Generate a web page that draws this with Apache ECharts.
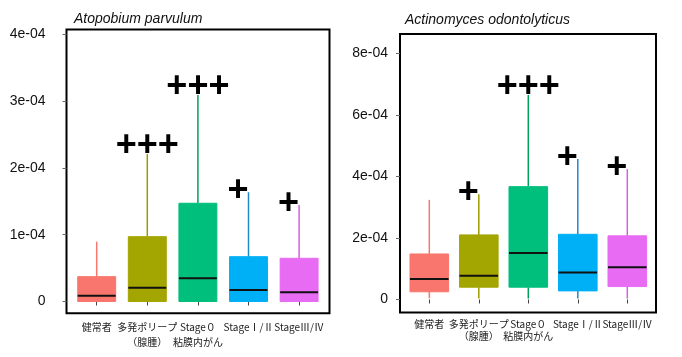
<!DOCTYPE html>
<html><head><meta charset="utf-8">
<script src="https://cdn.jsdelivr.net/npm/echarts@6/dist/echarts.min.js"></script>
<style>html,body{margin:0;padding:0;background:#fff}#c{width:682px;height:357px}</style>
</head><body><div id="c"></div>
<script>
// values in units of 1e-4
const categories = ['健常者', '多発ポリープ\n（腺腫）', 'Stage０\n粘膜内がん', 'StageⅠ/Ⅱ', 'StageⅢ/Ⅳ'];
const titleLeft = 'Atopobium parvulum';
const titleRight = 'Actinomyces odontolyticus';

const leftMin = [0, 0, 0, 0, 0];
const leftQ1 = [0, 0, 0, 0, 0];
const leftMedian = [0.087, 0.207, 0.348, 0.172, 0.138];
const leftQ3 = [0.372, 0.971, 1.471, 0.671, 0.647];
const leftMax = [0.896, 2.21, 3.094, 1.636, 1.446];
const leftMarks = ['', '+++', '+++', '+', '+'];
const leftTicks = [0, 1, 2, 3, 4];
const leftTickLabels = ['0', '1e-04', '2e-04', '3e-04', '4e-04'];

const rightMin = [0.04, 0.03, 0.03, 0.03, 0.03];
const rightQ1 = [0.25, 0.40, 0.40, 0.28, 0.42];
const rightMedian = [0.67, 0.77, 1.51, 0.88, 1.05];
const rightQ3 = [1.48, 2.10, 3.67, 2.12, 2.07];
const rightMax = [3.24, 3.42, 6.65, 4.57, 4.24];
const rightMarks = ['', '+', '+++', '+', '+'];
const rightTicks = [0, 2, 4, 6, 8];
const rightTickLabels = ['0', '2e-04', '4e-04', '6e-04', '8e-04'];

const fillColors = ['#F8766D', '#A3A500', '#00BF7D', '#00B0F6', '#E76BF3'];
const whiskerColors = ['#F8766D', '#9C9C00', '#00A05A', '#1E88C8', '#D660E0'];

function boxData(mn, q1, md, q3, mx) {
  return categories.map((c, i) => [i, mn[i], q1[i], md[i], q3[i], mx[i]]);
}
function markData(marks, mx) {
  const out = [];
  marks.forEach((m, i) => {
    if (!m) return;
    out.push({value: [i, mx[i]], label: {formatter: m, offset: m.length > 1 ? [0, -8] : [-10.5, -1]}});
  });
  return out;
}
function renderBox(frac) {
  return function (params, api) {
    const i = api.value(0);
    const pMin = api.coord([i, api.value(1)]);
    const pQ1 = api.coord([i, api.value(2)]);
    const pMd = api.coord([i, api.value(3)]);
    const pQ3 = api.coord([i, api.value(4)]);
    const pMax = api.coord([i, api.value(5)]);
    const bw = api.size([1, 0])[0] * frac;
    const x = pMd[0];
    const wc = whiskerColors[i], fc = fillColors[i];
    return {type: 'group', children: [
      {type: 'line', shape: {x1: x, y1: pQ3[1], x2: x, y2: pMax[1]}, style: {stroke: wc, lineWidth: 1.5}},
      {type: 'line', shape: {x1: x, y1: pQ1[1], x2: x, y2: pMin[1]}, style: {stroke: wc, lineWidth: 1.5}},
      {type: 'rect', shape: {x: x - bw / 2, y: pQ3[1], width: bw, height: pQ1[1] - pQ3[1]}, style: {fill: fc, stroke: fc, lineWidth: 1, opacity: 1}},
      {type: 'line', shape: {x1: x - bw / 2, y1: pMd[1], x2: x + bw / 2, y2: pMd[1]}, style: {stroke: '#111', lineWidth: 2}}
    ]};
  };
}

const chart = echarts.init(document.getElementById('c'), null, {renderer: 'canvas'});

function frameY(gi, min, max, ticks, labels, margin) {
  return {
    type: 'value', gridIndex: gi, min: min, max: max,
    axisLine: {show: false}, splitLine: {show: false},
    axisTick: {show: true, length: 4, lineStyle: {color: '#666'}, customValues: ticks},
    axisLabel: {show: true, customValues: ticks, margin: margin, fontSize: 14, color: '#111',
      fontFamily: 'Liberation Sans, Arial', formatter: v => labels[ticks.indexOf(Math.round(v))] }
  };
}
function hiddenY(gi, min, max) {
  return {type: 'value', gridIndex: gi, min: min, max: max, show: false, splitLine: {show: false}};
}
function dataX(gi, margin, lh) {
  return {
    type: 'category', gridIndex: gi, data: categories,
    axisLine: {show: false},
    axisTick: {show: true, alignWithLabel: true, length: 4, lineStyle: {color: '#444'}},
    axisLabel: {interval: 0, hideOverlap: false, margin: margin, fontSize: 10, lineHeight: lh, color: '#222',
      fontFamily: 'Noto Sans CJK JP'}
  };
}

const LMIN = -0.177, LMAX = 4.074, RMIN = -0.423, RMAX = 8.634;
const markLabel = {show: true, position: 'inside', fontSize: 36, fontWeight: 'bold', color: '#000', opacity: 1,
  fontFamily: 'Liberation Sans, Arial'};

chart.setOption({
  animation: false,
  backgroundColor: '#fff',
  title: [
    {text: titleLeft, left: 69, top: 7, textStyle: {fontSize: 14, fontStyle: 'italic', fontWeight: 'normal', color: '#111', fontFamily: 'Liberation Sans, Arial'}},
    {text: titleRight, left: 400, top: 8, textStyle: {fontSize: 14, fontStyle: 'italic', fontWeight: 'normal', color: '#111', fontFamily: 'Liberation Sans, Arial'}}
  ],
  grid: [
    {left: 66.5, top: 29.5, width: 263, height: 283.8, show: true, borderColor: '#000', borderWidth: 2, backgroundColor: 'transparent'},
    {left: 71.4, top: 29.5, width: 253, height: 283.8},
    {left: 400, top: 34, width: 256, height: 278.5, show: true, borderColor: '#000', borderWidth: 2, backgroundColor: 'transparent'},
    {left: 404.55, top: 34, width: 247.5, height: 278.5}
  ],
  xAxis: [
    {type: 'value', gridIndex: 0, show: false, min: 0, max: 1, splitLine: {show: false}},
    dataX(1, 6, 15),
    {type: 'value', gridIndex: 2, show: false, min: 0, max: 1, splitLine: {show: false}},
    dataX(3, 5.5, 12)
  ],
  yAxis: [
    frameY(0, LMIN, LMAX, leftTicks, leftTickLabels, 21),
    hiddenY(1, LMIN, LMAX),
    frameY(2, RMIN, RMAX, rightTicks, rightTickLabels, 12),
    hiddenY(3, RMIN, RMAX)
  ],
  series: [
    {type: 'custom', xAxisIndex: 1, yAxisIndex: 1, renderItem: renderBox(0.75),
      encode: {x: 0, y: [1, 2, 3, 4, 5]}, data: boxData(leftMin, leftQ1, leftMedian, leftQ3, leftMax)},
    {type: 'custom', xAxisIndex: 3, yAxisIndex: 3, renderItem: renderBox(0.78),
      encode: {x: 0, y: [1, 2, 3, 4, 5]}, data: boxData(rightMin, rightQ1, rightMedian, rightQ3, rightMax)},
    {type: 'scatter', xAxisIndex: 1, yAxisIndex: 1, symbol: 'circle', symbolSize: 1, itemStyle: {color: 'rgba(0,0,0,0)'}, silent: true,
      z: 5, label: markLabel, data: markData(leftMarks, leftMax)},
    {type: 'scatter', xAxisIndex: 3, yAxisIndex: 3, symbol: 'circle', symbolSize: 1, itemStyle: {color: 'rgba(0,0,0,0)'}, silent: true,
      z: 5, label: markLabel, data: markData(rightMarks, rightMax)}
  ]
});
</script>
</body></html>
